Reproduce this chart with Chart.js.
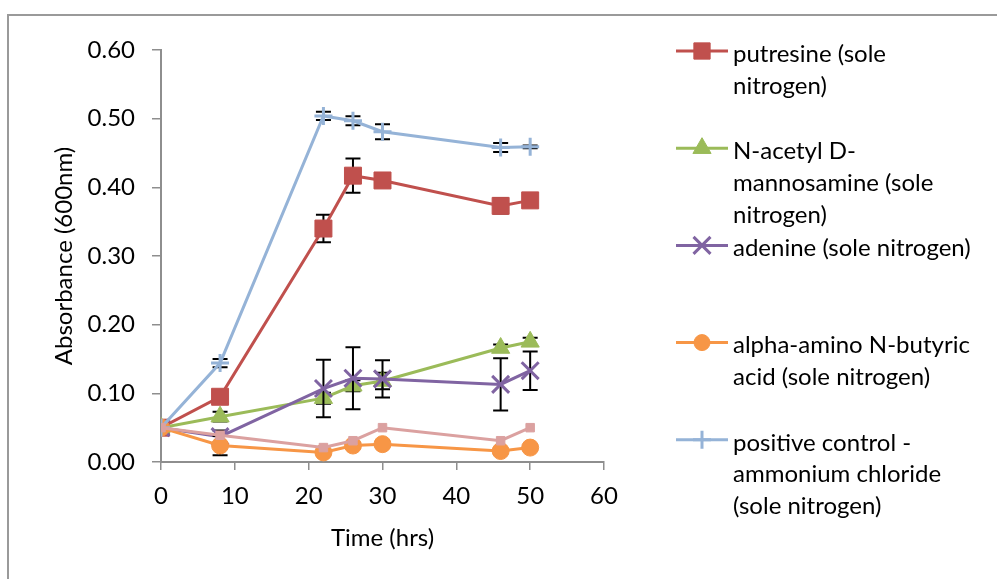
<!DOCTYPE html>
<html>
<head>
<meta charset="utf-8">
<title>Absorbance over time</title>
<script src="https://cdn.jsdelivr.net/npm/chart.js@4.4.1/dist/chart.umd.min.js"></script>
<style>
  html, body { margin: 0; padding: 0; background: #ffffff; }
  #wrap { width: 997px; height: 579px; position: relative; }
  canvas { display: block; }
</style>
</head>
<body>
<div id="wrap"><canvas id="chart" width="997" height="579"></canvas></div>
<script>
// Sampling times (hours)
const hours = [0, 8, 22, 26, 30, 46, 50];

// Mean absorbance at 600 nm and the error (±) for each condition
const putrescine      = [0.050, 0.095, 0.340, 0.417, 0.410, 0.373, 0.381];
const putrescineErr   = [0, 0.005, 0.020, 0.025, 0.006, 0.011, 0.004];
const mannosamine     = [0.050, 0.066, 0.093, 0.111, 0.118, 0.166, 0.175];
const mannosamineErr  = [0, 0.007, 0.008, 0.008, 0.012, 0.005, 0.006];
const adenine         = [0.050, 0.037, 0.107, 0.122, 0.121, 0.113, 0.133];
const adenineErr      = [0, 0.009, 0.042, 0.045, 0.027, 0.038, 0.028];
const aminoButyric    = [0.050, 0.024, 0.014, 0.024, 0.026, 0.016, 0.021];
const aminoButyricErr = [0, 0.014, 0.004, 0.004, 0.004, 0.004, 0.003];
const ammonium        = [0.050, 0.144, 0.504, 0.497, 0.481, 0.458, 0.459];
const ammoniumErr     = [0, 0.006, 0.006, 0.0065, 0.011, 0.0065, 0.002];
const negativeControl = [0.050, 0.039, 0.021, 0.031, 0.050, 0.031, 0.050];

// Legend text, one array of wrapped lines per series shown in the legend
const legendLines = [
  ['putresine (sole', 'nitrogen)'],
  ['N-acetyl D-', 'mannosamine (sole', 'nitrogen)'],
  ['adenine (sole nitrogen)'],
  ['alpha-amino N-butyric', 'acid (sole nitrogen)'],
  ['positive control -', 'ammonium chloride', '(sole nitrogen)']
];

const FONT = 'Lato, "Open Sans", sans-serif';
const FONT_SIZE = 24;
const AXIS_GREY = '#8e8e8e';

function points(values) {
  return hours.map((h, i) => ({ x: h, y: values[i] }));
}

function series(label, values, errors, color, style, radius, legendRadius, inLegend, order) {
  const crossLike = style === 'crossRot' || style === 'cross';
  return {
    label: label,
    data: points(values),
    errors: errors,
    inLegend: inLegend,
    legendRadius: legendRadius,
    borderColor: color,
    backgroundColor: color,
    borderWidth: 3,
    pointStyle: style,
    pointRadius: radius,
    pointHoverRadius: radius,
    pointBorderColor: color,
    pointBackgroundColor: color,
    pointBorderWidth: crossLike ? 3 : 1,
    tension: 0,
    fill: false,
    order: order
  };
}

// Higher order is painted first, so the last series ends up on top
const datasets = [
  series('putresine (sole nitrogen)', putrescine, putrescineErr, '#C0504D', 'rect', 12, 11.5, true, 6),
  series('N-acetyl D-mannosamine (sole nitrogen)', mannosamine, mannosamineErr, '#9BBB59', 'triangle', 10.5, 10.5, true, 5),
  series('adenine (sole nitrogen)', adenine, adenineErr, '#8064A2', 'crossRot', 12, 12, true, 4),
  series('alpha-amino N-butyric acid (sole nitrogen)', aminoButyric, aminoButyricErr, '#F79646', 'circle', 8.5, 8, true, 3),
  series('positive control - ammonium chloride (sole nitrogen)', ammonium, ammoniumErr, '#95B3D7', 'cross', 9, 9, true, 2),
  series('negative control', negativeControl, null, '#DBA1A0', 'rect', 6, 6, false, 1)
];

// White background and the frame around the chart
const framePlugin = {
  id: 'frame',
  beforeDraw(chart) {
    const ctx = chart.ctx;
    ctx.save();
    ctx.fillStyle = '#ffffff';
    ctx.fillRect(0, 0, chart.width, chart.height);
    ctx.strokeStyle = '#9a9a9a';
    ctx.lineWidth = 2;
    ctx.beginPath();
    ctx.moveTo(8, chart.height + 2);
    ctx.lineTo(8, 15);
    ctx.lineTo(chart.width + 2, 15);
    ctx.stroke();
    ctx.restore();
  }
};

// Vertical error bars with caps, drawn just beneath each series
const errorBarPlugin = {
  id: 'errorBars',
  beforeDatasetDraw(chart, args) {
    const ds = chart.data.datasets[args.index];
    if (!ds.errors) return;
    const xs = chart.scales.x, ys = chart.scales.y;
    const ctx = chart.ctx;
    const cap = 7.5;
    ctx.save();
    ctx.strokeStyle = '#000000';
    ctx.lineWidth = 2;
    ds.data.forEach((p, i) => {
      const e = ds.errors[i];
      if (!e) return;
      const x = xs.getPixelForValue(p.x);
      const yTop = ys.getPixelForValue(p.y + e);
      const yBot = ys.getPixelForValue(p.y - e);
      ctx.beginPath();
      ctx.moveTo(x, yTop); ctx.lineTo(x, yBot);
      ctx.moveTo(x - cap, yTop); ctx.lineTo(x + cap, yTop);
      ctx.moveTo(x - cap, yBot); ctx.lineTo(x + cap, yBot);
      ctx.stroke();
    });
    ctx.restore();
  }
};

// Legend on the right, with wrapped entry text
const sideLegendPlugin = {
  id: 'sideLegend',
  afterDraw(chart) {
    const ctx = chart.ctx;
    const shown = chart.data.datasets.filter(d => d.inLegend);
    const lineX0 = 676, lineX1 = 728, markX = 702, textX = 733;
    const firstY = 51, entryStep = 97.2, lineStep = 31.8;
    ctx.save();
    ctx.font = FONT_SIZE + 'px ' + FONT;
    ctx.textBaseline = 'middle';
    ctx.textAlign = 'left';
    shown.forEach((ds, k) => {
      const y = firstY + k * entryStep;
      ctx.strokeStyle = ds.borderColor;
      ctx.lineWidth = 3;
      ctx.beginPath();
      ctx.moveTo(lineX0, y); ctx.lineTo(lineX1, y);
      ctx.stroke();
      ctx.fillStyle = ds.borderColor;
      ctx.lineWidth = ds.pointBorderWidth;
      Chart.helpers.drawPoint(ctx, {
        pointStyle: ds.pointStyle,
        radius: ds.legendRadius,
        borderWidth: ds.pointBorderWidth,
        rotation: 0
      }, markX, y);
      ctx.fillStyle = '#000000';
      legendLines[k].forEach((t, j) => {
        ctx.fillText(t, textX, y + 3 + j * lineStep);
      });
    });
    ctx.restore();
  }
};

new Chart(document.getElementById('chart'), {
  type: 'line',
  data: { datasets: datasets },
  plugins: [framePlugin, errorBarPlugin, sideLegendPlugin],
  options: {
    responsive: false,
    animation: false,
    events: [],
    layout: { padding: { top: 50, right: 393, bottom: 0, left: 0 } },
    plugins: {
      legend: { display: false },
      tooltip: { enabled: false }
    },
    scales: {
      x: {
        type: 'linear',
        min: 0, max: 60,
        afterFit(scale) { scale.height = 117; },
        ticks: { stepSize: 10, color: '#000000', padding: 12, font: { family: FONT, size: FONT_SIZE } },
        grid: { drawOnChartArea: false, drawTicks: true, tickLength: 8, color: AXIS_GREY, lineWidth: 1.5 },
        border: { display: true, color: AXIS_GREY, width: 2 },
        title: { display: true, text: 'Time (hrs)', color: '#000000', padding: { top: 0, bottom: 26 }, font: { family: FONT, size: FONT_SIZE } }
      },
      y: {
        type: 'linear',
        min: 0, max: 0.6,
        afterFit(scale) { scale.width = 161; },
        ticks: {
          stepSize: 0.1, color: '#000000', padding: 17,
          font: { family: FONT, size: FONT_SIZE },
          callback: v => Number(v).toFixed(2)
        },
        grid: { drawOnChartArea: false, drawTicks: true, tickLength: 9, color: AXIS_GREY, lineWidth: 1.5 },
        border: { display: true, color: AXIS_GREY, width: 2 },
        title: { display: true, text: 'Absorbance (600nm)', color: '#000000', padding: { top: 50, bottom: 0 }, font: { family: FONT, size: FONT_SIZE } }
      }
    }
  }
});
</script>
</body>
</html>
